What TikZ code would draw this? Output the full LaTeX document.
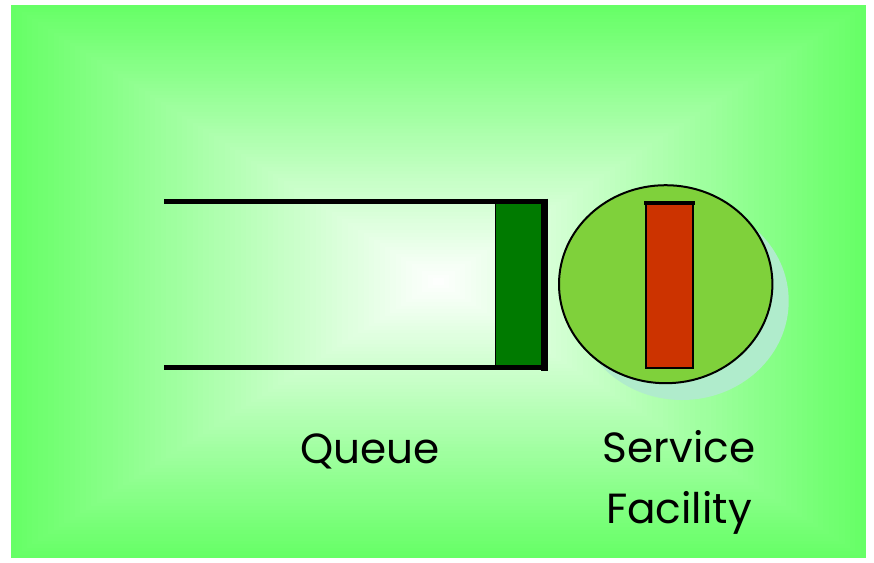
\documentclass[tikz,border=0pt]{standalone}
\usepackage{fontspec}
\setmainfont{Poppins}
\definecolor{bggreen}{RGB}{102,255,102}
\definecolor{srvgreen}{RGB}{127,209,59}
\definecolor{qgreen}{RGB}{0,122,0}
\definecolor{srvred}{RGB}{204,51,0}
\definecolor{shadowc}{RGB}{176,236,204}
\begin{document}
\begin{tikzpicture}[x=0.02cm,y=-0.02cm,
  lab/.style={font=\fontsize{24}{28}\selectfont, anchor=base, inner sep=0pt},
  thickline/.style={line width=0.1cm},
  thinline/.style={line width=0.04cm}]
\useasboundingbox (0,0) rectangle (874,562);
\fill[white] (0,0) rectangle (874,562);
% rectangular (path) gradient background
\foreach \i in {0,...,80}{
  \pgfmathsetmacro\s{1-\i/80}
  \pgfmathsetmacro\p{100*\s}
  \fill[bggreen!\p!white] ({438.5-427.5*\s},{281.5-276.5*\s}) rectangle ({438.5+427.5*\s},{281.5+276.5*\s});
}
% queue
\filldraw[fill=qgreen, draw=black, line width=0.5pt] (495,201) rectangle (541,366);
\draw[thickline] (164,201.3) -- (547,201.3);
\draw[thickline] (164,367.5) -- (547,367.5);
\draw[line width=0.14cm] (544,198.5) -- (544,370.5);
% service facility
\fill[shadowc] (682,301) ellipse [x radius=106.7, y radius=99];
\filldraw[fill=srvgreen, thinline] (665.7,284.2) ellipse [x radius=106.7, y radius=99];
\filldraw[fill=srvred, thinline] (646,202) rectangle (692.5,367.5);
\draw[line width=0.08cm] (644,202.5) -- (694.5,202.5);
% labels
\node[lab] (queue) at (370,463) {Queue};
\node[lab] (service) at (679,462) {Service};
\node[lab] (facility) at (679,523) {Facility};
\end{tikzpicture}
\end{document}
